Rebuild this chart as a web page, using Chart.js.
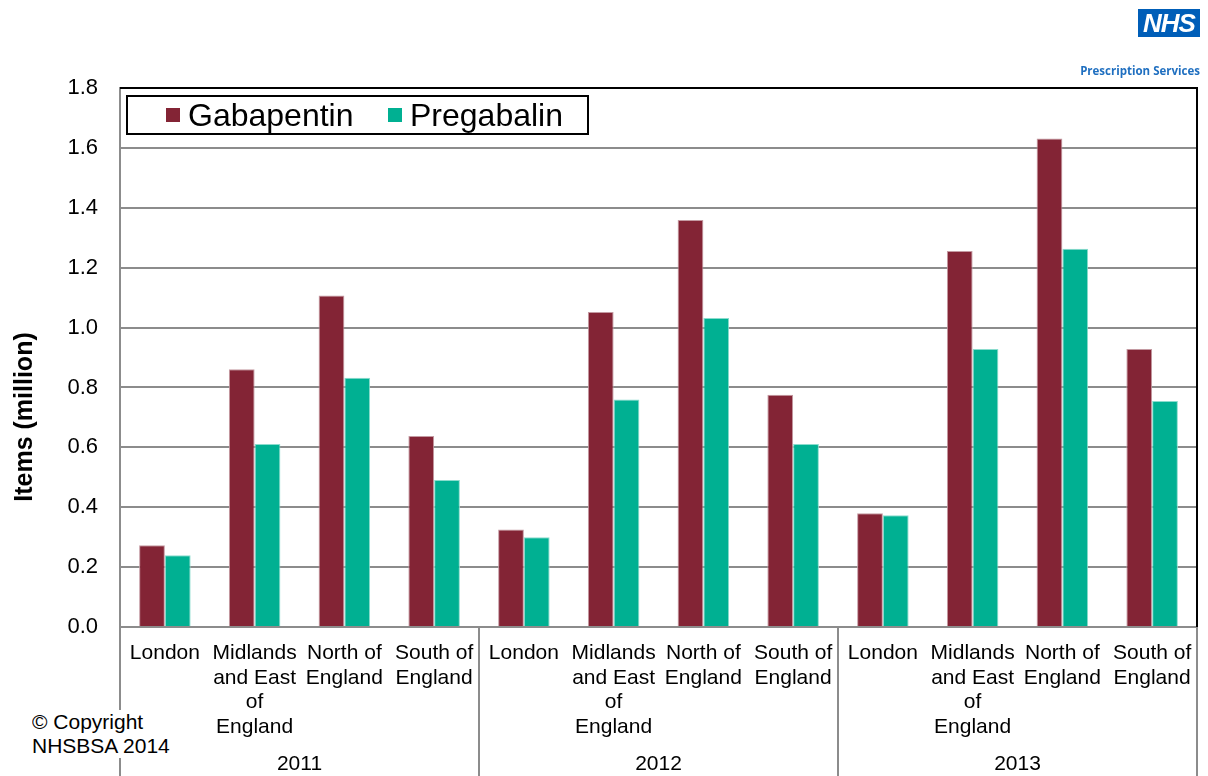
<!DOCTYPE html>
<html>
<head>
<meta charset="utf-8">
<script src="https://cdn.jsdelivr.net/npm/chart.js@4"></script>
<style>
  body { margin: 0; background: #fff; }
  #wrap { position: relative; width: 1208px; height: 776px; font-family: "Liberation Sans", Arial, sans-serif; }
  #nhs { position: absolute; left: 1138px; top: 9px; width: 62px; height: 28px; background: #005eb8; color: #fff;
         font: italic bold 26px "Liberation Sans", Arial, sans-serif; text-align: center; line-height: 29px; letter-spacing: -1px; }
  #ps { position: absolute; right: 8px; top: 63px; color: #1f6fc0; font: bold 11.5px "Open Sans", "Liberation Sans", sans-serif; }
  #copy { position: absolute; left: 32px; top: 710px; background: #fff; font-size: 21px; line-height: 24px; color: #000; padding-right: 4px; }
</style>
</head>
<body>
<div id="wrap">
  <canvas id="chart" width="1208" height="776"></canvas>
  <div id="nhs">NHS</div>
  <div id="ps">Prescription Services</div>
  <div id="copy">© Copyright<br>NHSBSA 2014</div>
</div>
<script>
const regions = [['London'], ['Midlands', 'and East', 'of', 'England'], ['North of', 'England'], ['South of', 'England']]
const years = ['2011', '2012', '2013']
const labels = years.flatMap(() => regions)
const gabapentin = [0.273, 0.861, 1.107, 0.638, 0.326, 1.052, 1.359, 0.776, 0.380, 1.256, 1.631, 0.928]
const pregabalin = [0.240, 0.611, 0.832, 0.491, 0.300, 0.760, 1.032, 0.611, 0.373, 0.928, 1.263, 0.755]
const yTicks = [0, 0.2, 0.4, 0.6, 0.8, 1.0, 1.2, 1.4, 1.6, 1.8]
const yTitle = 'Items (million)'

const font = '"Liberation Sans", Arial, sans-serif'

// year groups, separator lines, top/right frame, legend, axis title
const groupsPlugin = {
    id: 'groups',
    afterDraw(chart) {
        const ctx = chart.ctx
        const area = chart.chartArea
        const x = chart.scales.x
        const per = regions.length
        const step = (area.right - area.left) / labels.length
        ctx.save()
        ctx.strokeStyle = '#8c8c8c'
        ctx.lineWidth = 2
        for (let g = 0; g <= years.length; g++) {
            const px = Math.round(area.left + g * per * step)
            ctx.beginPath()
            ctx.moveTo(px, area.bottom)
            ctx.lineTo(px, chart.height)
            ctx.stroke()
        }
        ctx.fillStyle = '#000'
        ctx.font = '21px ' + font
        ctx.textAlign = 'center'
        ctx.textBaseline = 'middle'
        years.forEach((y, g) => {
            const mid = (x.getPixelForValue(g * per) + x.getPixelForValue(g * per + per - 1)) / 2
            ctx.fillText(y, mid, 764)
        })
        ctx.strokeStyle = '#000'
        ctx.beginPath()
        ctx.moveTo(area.left, area.top)
        ctx.lineTo(area.right, area.top)
        ctx.lineTo(area.right, area.bottom)
        ctx.stroke()

        // y title
        ctx.save()
        ctx.translate(25, 417)
        ctx.rotate(-Math.PI / 2)
        ctx.font = 'bold 25px ' + font
        ctx.fillText(yTitle, 0, 0)
        ctx.restore()

        // legend box
        ctx.fillStyle = '#fff'
        ctx.fillRect(127, 96, 461, 38)
        ctx.lineWidth = 2
        ctx.strokeRect(127, 96, 461, 38)
        ctx.font = '32px ' + font
        ctx.textAlign = 'left'
        const items = [[166, 0], [388, 1]]
        items.forEach(([lx, i]) => {
            const ds = chart.data.datasets[i]
            ctx.fillStyle = ds.backgroundColor
            ctx.fillRect(lx, 108, 14, 14)
            ctx.fillStyle = '#000'
            ctx.fillText(ds.label, lx + 22, 117)
        })
        ctx.restore()
    }
}

const ctx = document.getElementById('chart').getContext('2d')
const chart = new Chart(ctx, {
    type: 'bar',
    data: {
        labels: labels,
        datasets: [
            { label: 'Gabapentin', data: gabapentin, backgroundColor: '#832435', borderColor: '#c49aa2', borderWidth: { top: 1, left: 1, right: 1, bottom: 0 } },
            { label: 'Pregabalin', data: pregabalin, backgroundColor: '#00b092', borderColor: '#8adccd', borderWidth: { top: 1, left: 1, right: 1, bottom: 0 } }
        ]
    },
    options: {
        responsive: false,
        animation: false,
        devicePixelRatio: 1,
        layout: { padding: { top: 88, right: 11, left: 0, bottom: 0 } },
        categoryPercentage: 0.574,
        barPercentage: 1,
        plugins: { legend: { display: false }, tooltip: { enabled: false } },
        scales: {
            x: {
                grid: { display: false },
                border: { color: '#8c8c8c', width: 2 },
                ticks: { color: '#000', font: { family: font, size: 21, lineHeight: 1.17 }, maxRotation: 0, autoSkip: false, padding: 6 },
                afterFit: s => { s.height = 149 }
            },
            y: {
                min: 0,
                max: 1.8,
                afterBuildTicks: s => { s.ticks = yTicks.map(v => ({ value: v })) },
                grid: { color: '#8c8c8c', lineWidth: 2, drawTicks: false },
                border: { color: '#8c8c8c', width: 2 },
                ticks: { color: '#000', font: { family: font, size: 22 }, padding: 22, callback: v => v.toFixed(1) },
                afterFit: s => { s.width = 120 }
            }
        }
    },
    plugins: [groupsPlugin]
})
</script>
</body>
</html>
